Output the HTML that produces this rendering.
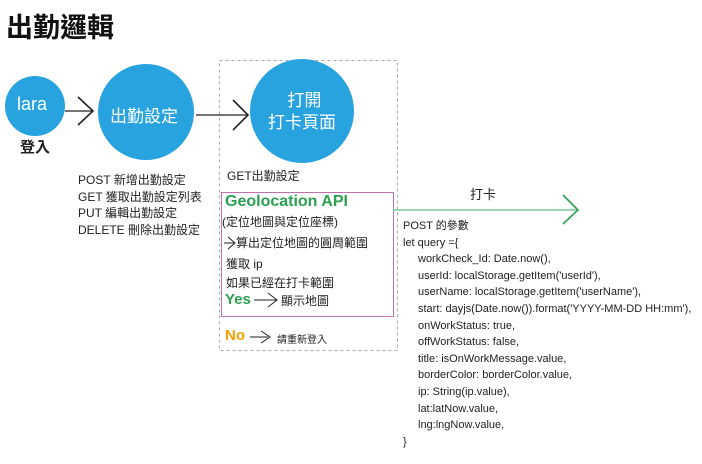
<!DOCTYPE html>
<html><head><meta charset="utf-8"><style>
html,body{margin:0;padding:0;background:#fff;}
body{width:702px;height:464px;position:relative;overflow:hidden;font-family:"Liberation Sans","Noto Sans CJK TC",sans-serif;color:#222;}
.t{position:absolute;white-space:nowrap;}
.code{position:absolute;left:403px;top:218px;font-size:11px;line-height:16.6px;}
.code div{white-space:nowrap;}
.i{padding-left:15px;}
</style></head><body>
<div class="t" style="left:6px;top:6px;font-size:27px;font-weight:bold;color:#111;">出勤邏輯</div>
<svg width="702" height="464" style="position:absolute;left:0;top:0">
<rect x="219.5" y="60.5" width="178" height="290" fill="none" stroke="#aaa" stroke-dasharray="3,3"/>
<rect x="221.5" y="192.5" width="172" height="124" fill="none" stroke="#c070b0" stroke-width="1"/>
<circle cx="35" cy="106" r="30" fill="#29a3df"/>
<circle cx="146" cy="112" r="48" fill="#29a3df"/>
<circle cx="302" cy="111" r="52" fill="#29a3df"/>
<line x1="65" y1="111" x2="93" y2="111" stroke="#222" stroke-width="1.3"/>
<polyline points="78,97 93,111 78,125" fill="none" stroke="#222" stroke-width="1.6"/>
<line x1="196" y1="115" x2="248" y2="115" stroke="#222" stroke-width="1.3"/>
<polyline points="233,100 248,115 233,130" fill="none" stroke="#222" stroke-width="1.6"/>
<line x1="393" y1="210" x2="578" y2="210" stroke="#7cc99a" stroke-width="1.5"/>
<polyline points="563,195 578,210 563,224" fill="none" stroke="#2aa050" stroke-width="1.6"/>
<line x1="224" y1="243" x2="234" y2="243" stroke="#222" stroke-width="1"/>
<polyline points="228,237 235,243 228,249" fill="none" stroke="#222" stroke-width="1"/>
<line x1="254" y1="300" x2="276" y2="300" stroke="#222" stroke-width="1"/>
<polyline points="268,293 277,300 268,307" fill="none" stroke="#222" stroke-width="1"/>
<line x1="250" y1="337" x2="268" y2="337" stroke="#222" stroke-width="1"/>
<polyline points="261,331 270,337 261,343" fill="none" stroke="#222" stroke-width="1"/>
</svg>
<div class="t" style="left:17px;top:94px;font-size:18px;color:#fff;">lara</div>
<div class="t" style="left:20px;top:136px;font-size:15px;font-weight:bold;">登入</div>
<div class="t" style="left:110px;top:102px;font-size:17px;color:#fff;">出勤設定</div>
<div class="t" style="left:268px;top:90px;font-size:17px;color:#fff;text-align:center;line-height:22px;">&nbsp;打開<br>打卡頁面</div>
<div class="t" style="left:78px;top:172px;font-size:12px;line-height:16.5px;">POST 新增出勤設定<br>GET 獲取出勤設定列表<br>PUT 編輯出勤設定<br>DELETE 刪除出勤設定</div>
<div class="t" style="left:227px;top:167px;font-size:12px;">GET出勤設定</div>
<div class="t" style="left:225px;top:193px;font-size:16px;color:#2aa050;font-weight:bold;">Geolocation API</div>
<div class="t" style="left:222px;top:213px;font-size:12px;">(定位地圖與定位座標)</div>
<div class="t" style="left:236px;top:234px;font-size:12px;">算出定位地圖的圓周範圍</div>
<div class="t" style="left:226px;top:255px;font-size:12px;">獲取 ip</div>
<div class="t" style="left:226px;top:274px;font-size:12px;">如果已經在打卡範圍</div>
<div class="t" style="left:225px;top:291px;font-size:15px;color:#2aa050;font-weight:bold;">Yes</div>
<div class="t" style="left:281px;top:292px;font-size:12px;">顯示地圖</div>
<div class="t" style="left:225px;top:327px;font-size:15px;color:#f5a000;font-weight:bold;">No</div>
<div class="t" style="left:277px;top:331px;font-size:10px;">請重新登入</div>
<div class="t" style="left:470px;top:184px;font-size:13px;">打卡</div>
<div class="code">
<div>POST 的參數</div>
<div>let query ={</div>
<div class="i">workCheck_Id: Date.now(),</div>
<div class="i">userId: localStorage.getItem('userId'),</div>
<div class="i">userName: localStorage.getItem('userName'),</div>
<div class="i">start: dayjs(Date.now()).format('YYYY-MM-DD HH:mm'),</div>
<div class="i">onWorkStatus: true,</div>
<div class="i">offWorkStatus: false,</div>
<div class="i">title: isOnWorkMessage.value,</div>
<div class="i">borderColor: borderColor.value,</div>
<div class="i">ip: String(ip.value),</div>
<div class="i">lat:latNow.value,</div>
<div class="i">lng:lngNow.value,</div>
<div>}</div>
</div>
</body></html>
